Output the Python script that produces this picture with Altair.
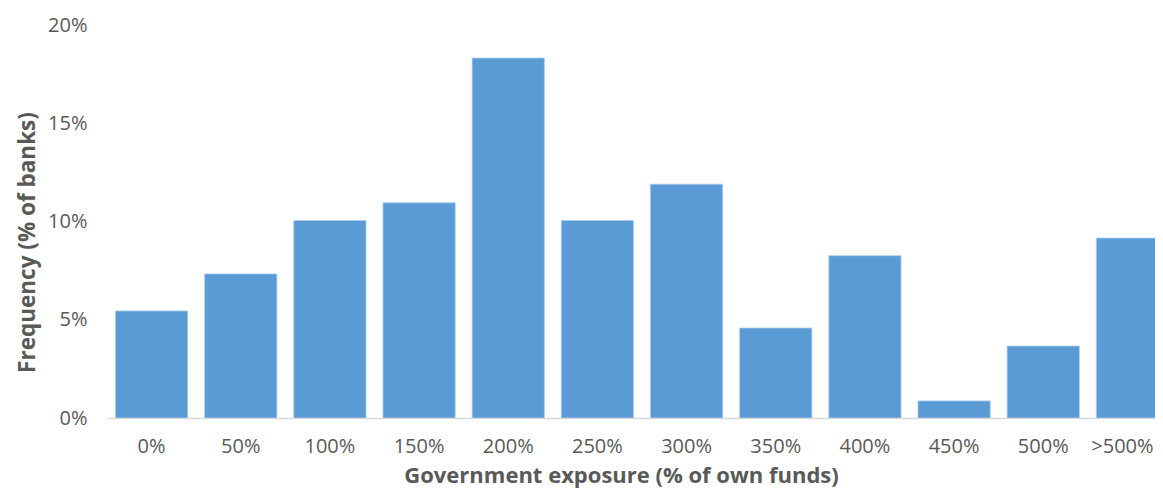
import altair as alt
import pandas as pd

categories = ["0%", "50%", "100%", "150%", "200%", "250%", "300%", "350%", "400%", "450%", "500%", ">500%"]
values = [0.0545, 0.0733, 0.1005, 0.1095, 0.1832, 0.1005, 0.119, 0.0458, 0.0826, 0.0087, 0.0366, 0.0916]

df = pd.DataFrame({"cat": categories, "val": values})

FONT = "Open Sans"
TXT = "#595959"

chart = alt.Chart(df).mark_bar(color="#5B9BD5", stroke="#A9CBEC", strokeWidth=0.8, clip=True).encode(
    x=alt.X("cat:N", sort=categories,
            scale=alt.Scale(range=[0, 1070], paddingInner=0.19, paddingOuter=0.095),
            axis=alt.Axis(title="Government exposure (% of own funds)", labelAngle=0,
                          ticks=False, domainColor="#D9D9D9", domainWidth=1.5,
                          labelPadding=18, labelFontSize=20, labelColor=TXT, labelFont=FONT,
                          labelOffset={"condition": {"test": "datum.value === '>500%'", "value": -10}, "value": 0},
                          titleFont=FONT, titleFontSize=22, titleFontWeight="bold", titleColor=TXT,
                          titleX=514, titleY=64, titleBaseline="alphabetic")),
    y=alt.Y("val:Q", scale=alt.Scale(domain=[0, 0.2]),
            axis=alt.Axis(title="Frequency (% of banks)", format=".0%", values=[0, 0.05, 0.1, 0.15, 0.2],
                          grid=False, ticks=False, domain=False, labelPadding=20,
                          labelFontSize=20, labelColor=TXT, labelFont=FONT,
                          titleFont=FONT, titleFontSize=22.5, titleFontWeight="bold", titleColor=TXT,
                          titleX=-80, titleY=217, titleBaseline="middle", titleAngle=-90)),
).properties(
    width=1048, height=393,
    autosize=alt.AutoSizeParams(type="none"),
    padding={"left": 99, "top": 17, "right": 0, "bottom": 71},
).configure_view(stroke=None)

chart.save("out.html", embed_options={"renderer": "svg", "actions": False})
